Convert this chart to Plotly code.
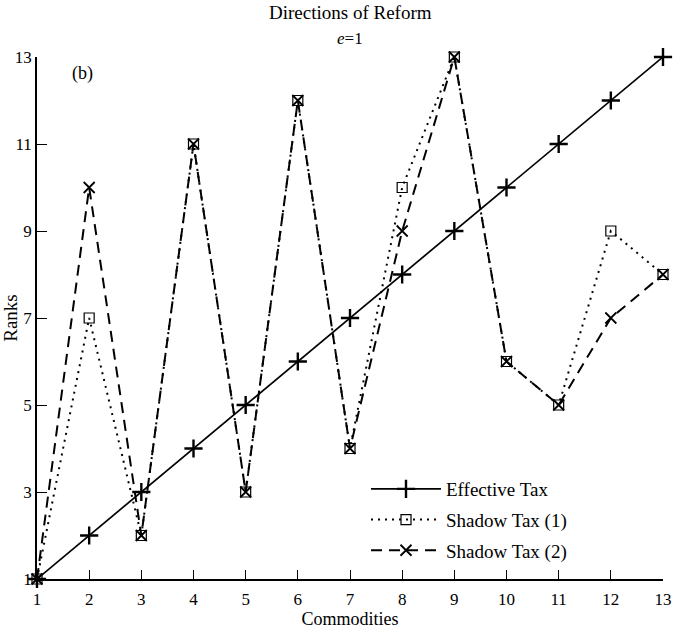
import plotly.graph_objects as go

commodities = list(range(1, 14))
effective_tax = [1, 2, 3, 4, 5, 6, 7, 8, 9, 10, 11, 12, 13]
shadow_tax_1 = [1, 7, 2, 11, 3, 12, 4, 10, 13, 6, 5, 9, 8]
shadow_tax_2 = [1, 10, 2, 11, 3, 12, 4, 9, 13, 6, 5, 7, 8]
x_ticks = list(range(1, 14))
y_ticks = [1, 3, 5, 7, 9, 11, 13]

FONT = "Liberation Serif"

fig = go.Figure()
fig.add_trace(go.Scatter(
    x=commodities, y=effective_tax, name="Effective Tax", mode="lines+markers",
    line=dict(color="black", width=1.7, dash="solid"),
    marker=dict(symbol="cross-thin", size=13, line=dict(color="black", width=2.4)),
    cliponaxis=False, legendgroup="a"))
fig.add_trace(go.Scatter(
    x=commodities, y=shadow_tax_1, name="Shadow Tax (1)", mode="lines+markers",
    line=dict(color="black", width=2, dash="2px,5px"),
    marker=dict(symbol="square-open", size=10, color="black", line=dict(color="black", width=1.2)),
    cliponaxis=False, legendgroup="b"))
fig.add_trace(go.Scatter(
    x=commodities, y=shadow_tax_2, name="Shadow Tax (2)", mode="lines+markers",
    line=dict(color="black", width=2, dash="11px,7px"),
    marker=dict(symbol="x-thin", size=11, line=dict(color="black", width=1.8)),
    cliponaxis=False, legendgroup="c"))

PLOT_H = 522
PLOT_W = 626
fig.update_layout(
    width=674, height=633,
    margin=dict(l=37, r=11, t=57, b=54, autoexpand=False),
    paper_bgcolor="white", plot_bgcolor="white",
    font=dict(family=FONT, size=17, color="black"),
    showlegend=True,
    legend=dict(x=(366 - 37) / PLOT_W, y=(579 - 470) / PLOT_H, xanchor="left", yanchor="top",
                bgcolor="rgba(0,0,0,0)", font=dict(family=FONT, size=19),
                tracegroupgap=3, itemwidth=70),
    annotations=[
        dict(text="Directions of Reform", x=0.5, y=1 + 44 / PLOT_H, xref="paper", yref="paper",
             yanchor="middle", showarrow=False, font=dict(size=19)),
        dict(text="<i>e</i>=1", x=0.5, y=1 + 18 / PLOT_H, xref="paper", yref="paper",
             yanchor="middle", showarrow=False, font=dict(size=17)),
        dict(text="(b)", x=0.052, y=(579 - 73) / PLOT_H, xref="paper", yref="paper", xanchor="left",
             yanchor="middle", showarrow=False, font=dict(size=18)),
    ],
)

fig.update_xaxes(range=[1, 13], tickvals=x_ticks, showline=True, linecolor="black", linewidth=1.5,
                 ticks="inside", ticklen=9, tickcolor="black", tickwidth=1.2, showgrid=False,
                 zeroline=False, mirror=False, automargin=False, ticklabelstandoff=4,
                 title=dict(text="Commodities", font=dict(size=18), standoff=4),
                 tickfont=dict(size=17))
fig.update_yaxes(range=[1, 13], tickvals=y_ticks, showline=True, linecolor="black", linewidth=1.5,
                 ticks="inside", ticklen=10, tickcolor="black", tickwidth=1.2, showgrid=False,
                 zeroline=False, mirror=False, automargin=False,
                 title=dict(text="Ranks", font=dict(size=19), standoff=0),
                 tickfont=dict(size=17))

fig.write_html("out.html", config={"displayModeBar": False},
               post_script="document.body.style.margin='0';document.body.style.overflow='hidden';")
